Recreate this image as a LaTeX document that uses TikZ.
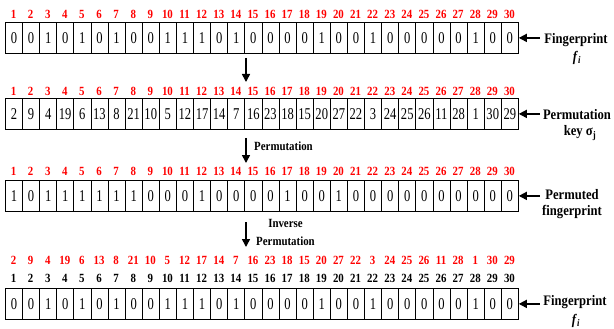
\documentclass[tikz,border=0pt]{standalone}
\usepackage{fontspec}
\setmainfont{Liberation Serif}
\newfontfamily\cellfont[FakeStretch=0.76]{Liberation Serif}
\newfontfamily\lblfont[FakeStretch=0.87]{Liberation Serif}
\usetikzlibrary{arrows.meta}
\definecolor{lblred}{RGB}{255,0,0}
\begin{document}
\begin{tikzpicture}[x=1pt,y=-1pt,
  cell/.style={draw, line width=0.8pt, minimum width=17.1pt, minimum height=31pt, inner sep=0pt, anchor=north west, font=\cellfont\fontsize{16.5}{16.5}\selectfont},
  idx/.style={inner sep=0pt, text=lblred, font=\lblfont\bfseries\fontsize{12.5}{13}\selectfont},
  blk/.style={inner sep=0pt, font=\lblfont\bfseries\fontsize{12.5}{13}\selectfont},
  lab/.style={inner sep=0pt, font=\lblfont\bfseries\fontsize{14.5}{15}\selectfont},
  arr/.style={line width=1.5pt, -{Triangle[length=8pt,width=8pt]}}]
\useasboundingbox (0,0) rectangle (614,329);
% row 1
\foreach \v [count=\i] in {0,0,1,0,1,0,1,0,0,1,1,1,0,1,0,0,0,0,1,0,0,1,0,0,0,0,0,1,0,0}{
  \node[cell] (r1c\i) at ({5+(\i-1)*17.1},22) {\v};
  \node[idx] (r1n\i) at ({5+(\i-0.5)*17.1},14) {\i};
}
% row 2
\foreach \v [count=\i] in {2,9,4,19,6,13,8,21,10,5,12,17,14,7,16,23,18,15,20,27,22,3,24,25,26,11,28,1,30,29}{
  \node[cell] (r2c\i) at ({5+(\i-1)*17.1},98) {\v};
  \node[idx] (r2n\i) at ({5+(\i-0.5)*17.1},91) {\i};
}
% row 3
\foreach \v [count=\i] in {1,0,1,1,1,1,1,1,0,0,0,1,0,0,0,0,1,0,0,1,0,0,0,0,0,0,0,0,0,0}{
  \node[cell] (r3c\i) at ({5+(\i-1)*17.1},180) {\v};
  \node[idx] (r3n\i) at ({5+(\i-0.5)*17.1},171) {\i};
}
% row 4
\foreach \v [count=\i] in {0,0,1,0,1,0,1,0,0,1,1,1,0,1,0,0,0,0,1,0,0,1,0,0,0,0,0,1,0,0}{
  \node[cell] (r4c\i) at ({5+(\i-1)*17.1},288) {\v};
  \node[blk] (r4n\i) at ({5+(\i-0.5)*17.1},278) {\i};
}
\foreach \p [count=\i] in {2,9,4,19,6,13,8,21,10,5,12,17,14,7,16,23,18,15,20,27,22,3,24,25,26,11,28,1,30,29}{
  \node[idx] (r4k\i) at ({5+(\i-0.5)*17.1},260) {\p};
}
% down arrows
\coordinate (d1s) at (246,58); \coordinate (d1e) at (246,82);
\coordinate (d2s) at (246,138); \coordinate (d2e) at (246,163);
\coordinate (d3s) at (246,222); \coordinate (d3e) at (246,247);
\draw[arr] (d1s) -- (d1e);
\draw[arr] (d2s) -- (d2e);
\draw[arr] (d3s) -- (d3e);
\node[blk, anchor=west] (perm) at (254,146) {Permutation};
\node[blk, anchor=west] (invp) at (256,241) {Permutation};
\node[blk] (inv) at (invp.center |- 0,223) {Inverse};
% right labels
\node[lab] (l1a) at (576,40) {Fingerprint};
\node[lab] (l1b) at (577,58) {\textit{f}\textsubscript{\textit{i}}};
\node[lab] (l2a) at (577,115) {Permutation};
\node[lab] (l2b) at (580,133) {key σ\textsubscript{j}};
\node[lab] (l3a) at (572,195) {Permuted};
\node[lab] (l3b) at (572,212) {fingerprint};
\node[lab] (l4a) at (575,302) {Fingerprint};
\node[lab] (l4b) at (576,321) {\textit{f}\textsubscript{\textit{i}}};
\draw[arr] ([xshift=21pt]r1c30.east) -- (r1c30.east);
\draw[arr] ([xshift=21pt]r2c30.east) -- (r2c30.east);
\draw[arr] ([xshift=21pt]r3c30.east) -- (r3c30.east);
\draw[arr] ([xshift=21pt]r4c30.east) -- (r4c30.east);
\end{tikzpicture}
\end{document}
